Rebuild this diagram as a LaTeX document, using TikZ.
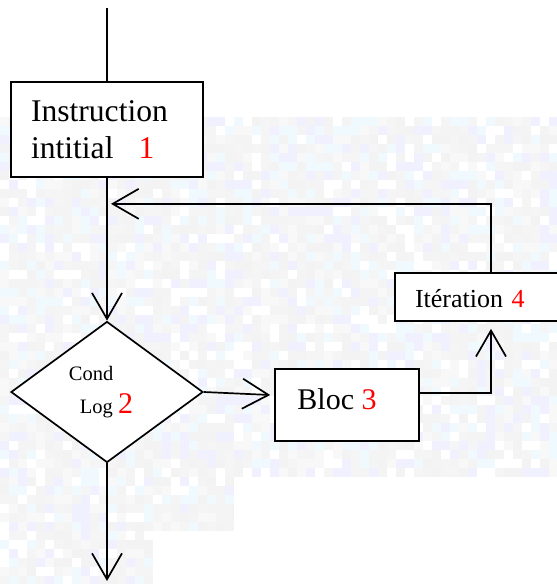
\documentclass[tikz,border=0pt]{standalone}
\usepackage{fontspec}
\setmainfont{Liberation Serif}
\usetikzlibrary{shapes.geometric,arrows.meta,calc}

\begin{document}
\begin{tikzpicture}[x=1pt, y=-1pt, line width=1.7pt,
	box/.style={draw, fill=white, rectangle, inner sep=0pt},
	test/.style={draw, fill=white, diamond, inner sep=0pt, minimum width=192pt, minimum height=141pt},
	flow/.style={-{Straight Barb[length=26pt, width=30pt]}}]
	\useasboundingbox (0,0) rectangle (557,584);
	% faint mosaic behind the chart
	\pgfmathsetseed{11}
	\foreach \i in {0,...,61}{
		\foreach \j in {13,...,64}{
			\pgfmathrandominteger{\c}{0}{6}
			\ifcase\c \def\tone{white}\or \def\tone{cyan!6}\or \def\tone{blue!5!gray!9}\or \def\tone{cyan!7!gray!6}\or \def\tone{red!4!blue!3!gray!8}\or \def\tone{gray!9}\or \def\tone{blue!6}\fi
			\pgfmathparse{((\i>25 && \j>52) || (\i>16 && \j>58)) ? 1 : 0}
			\ifnum\pgfmathresult=1 \def\tone{white}\fi
			\fill[\tone] (\i*9,\j*9) rectangle ++(9,9);
	}}
	\node[box, minimum width=192pt, minimum height=95pt, text width=152pt, align=left,
		font=\fontsize{31.6}{37}\selectfont] (init) at (107,129.5) {Instruction\\intitial\hspace{25pt}{\color{red}1}};
	\node[test, align=left, font=\fontsize{20.5}{33}\selectfont] (cond) at (107,392)
		{Cond\\\hspace*{11pt}Log {\fontsize{30}{33}\selectfont\color{red}2}\hspace*{12pt}};
	\node[box, minimum width=144pt, minimum height=72pt, text height=21pt, text depth=13pt,
		font=\fontsize{30}{36}\selectfont] (bloc) at (347,405) {Bloc {\color{red}3}\hspace*{20pt}};
	\node[box, minimum width=192pt, minimum height=48pt, text width=152pt, text height=22pt, text depth=2pt,
		align=left, font=\fontsize{26}{30}\selectfont] (iter) at (491,297) {Itération {\color{red}4}};
	\coordinate (start) at (107,8);
	\coordinate (stop) at (107,581);
	\draw (start) -- (init);
	\draw[flow] (init) -- (cond);
	\draw[flow] (cond.east) -- ($(bloc.west)+(-4,-10)$);
	\draw[flow] ($(bloc.east)+(0,-12)$) -| ($(iter.south)+(0,7)$);
	\draw[flow] (iter.north) |- ($(init.south)+(4,26)$);
	\draw[flow] (cond) -- (stop);
\end{tikzpicture}
\end{document}
